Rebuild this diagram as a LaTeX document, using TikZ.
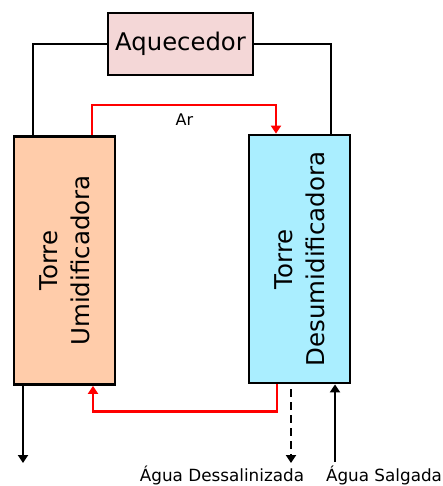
\documentclass[tikz,border=0pt]{standalone}
\usepackage{fontspec}
\setmainfont{DejaVu Sans}
\usetikzlibrary{arrows.meta}
\definecolor{heaterfill}{HTML}{F4D7D7}
\definecolor{humfill}{HTML}{FFCCAA}
\definecolor{dehumfill}{HTML}{AAEEFF}
\tikzset{
  unit/.style={draw=black, line width=2.8pt, inner sep=0pt},
  tower/.style={unit, minimum width=101pt, minimum height=248pt},
  pipe/.style={line width=2.4pt, black},
  air/.style={line width=2.2pt, red},
  tip/.style={-{Triangle[width=10pt,length=8pt]}},
  lbl/.style={font=\fontsize{16.8}{20}\selectfont, inner sep=0pt},
}
\begin{document}
\begin{tikzpicture}[x=1pt, y=-1pt]
\useasboundingbox (0,0) rectangle (443,486);

% heater and the two towers
\node[unit, fill=heaterfill, minimum width=145pt, minimum height=62pt,
      font=\fontsize{24.3}{29}\selectfont] (heater) at (180.5,44) {Aquecedor};
\node[tower, fill=humfill] (lt) at (64.5,260.5) {};
\node[tower, fill=dehumfill] (rt) at (299.5,259) {};
\node[rotate=90, align=center, font=\fontsize{24.5}{32}\selectfont]
  (ltlabel) at (lt.center) {Torre\\Umidificadora};
\node[rotate=90, align=center, font=\fontsize{24.5}{32}\selectfont]
  (rtlabel) at (rt.center) {Torre\\Desumidificadora};

% heating loop
\draw[pipe] (heater.west) -| ([xshift=-31.5pt]lt.north);
\draw[pipe] (heater.east) -| ([xshift=31.5pt]rt.north);

% air circuit
\draw[air, tip] ([xshift=27.5pt]lt.north) -- ++(0,-30) -| ([xshift=-23.5pt]rt.north);
\draw[air, tip] ([xshift=-22.5pt]rt.south) -- ++(0,27) -| ([xshift=28.5pt]lt.south);
\node[lbl, font=\fontsize{16}{19}\selectfont] (ar) at (184.5,120) {Ar};

% water streams
\coordinate (brine) at (23,463);
\coordinate (fresh) at (291,463);
\coordinate (sea) at (335,462);
\node[lbl, anchor=base] (freshlbl) at (222,481) {Água Dessalinizada};
\node[lbl, anchor=base] (sealbl) at (384,481) {Água Salgada};
\draw[pipe, tip] ([xshift=-41.5pt]lt.south) -- (brine);
\draw[pipe, tip, dashed, dash pattern=on 8pt off 5pt] ([xshift=-8.5pt,yshift=-5pt]rt.south) -- (fresh);
\draw[pipe, tip] (sea) -- ([xshift=35.5pt]rt.south);
\end{tikzpicture}
\end{document}
